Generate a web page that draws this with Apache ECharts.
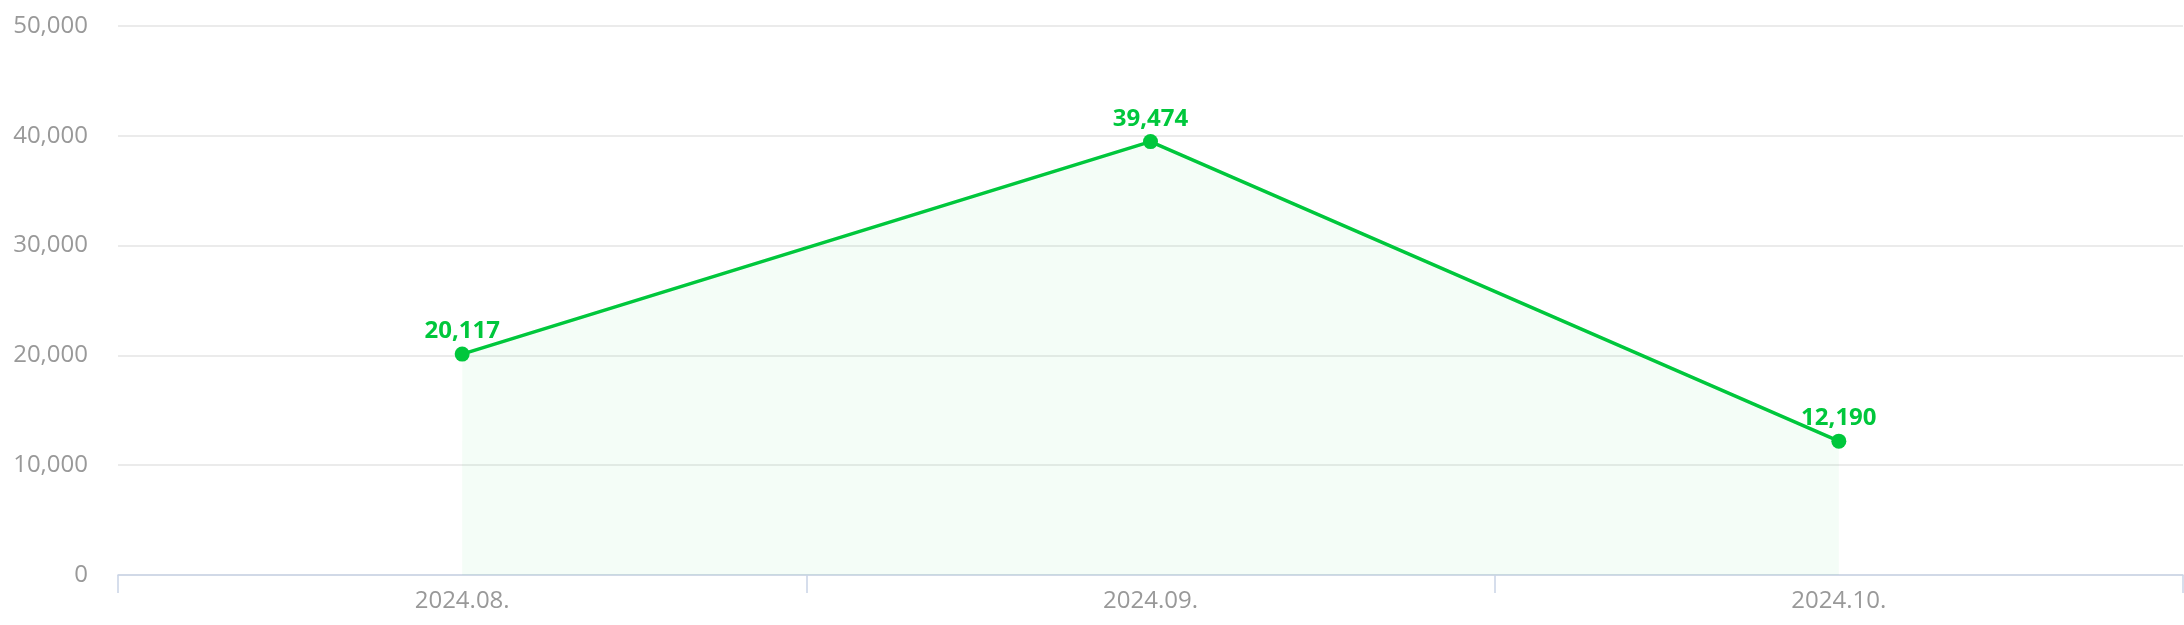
<!DOCTYPE html>
<html>
<head>
<meta charset="utf-8">
<script src="https://cdn.jsdelivr.net/npm/echarts@6/dist/echarts.min.js"></script>
<style>
html,body{margin:0;padding:0;background:#fff;}
#chart{width:2184px;height:625px;}
</style>
</head>
<body>
<div id="chart"></div>
<script>
const categories = ['2024.08.', '2024.09.', '2024.10.'];
const values = [20117, 39474, 12190];
const yTicks = [0, 10000, 20000, 30000, 40000, 50000];

const chart = echarts.init(document.getElementById('chart'), null, {renderer: 'canvas'});
const fmt = v => v.toLocaleString('en-US');
chart.setOption({
  animation: false,
  grid: {left: 118, right: 1, top: 26, bottom: 50, containLabel: false},
  xAxis: {
    type: 'category',
    data: categories,
    boundaryGap: true,
    axisLine: {lineStyle: {color: '#c9d3e6', width: 1.5}},
    axisTick: {show: true, length: 18, lineStyle: {color: '#c9d3e6', width: 1.5}},
    axisLabel: {color: '#999999', fontSize: 24, fontFamily: 'Open Sans', margin: 14}
  },
  yAxis: {
    type: 'value',
    min: yTicks[0],
    max: yTicks[yTicks.length - 1],
    interval: yTicks[1] - yTicks[0],
    axisLine: {show: false},
    axisTick: {show: false},
    splitLine: {lineStyle: {color: '#e4e4e4', width: 1.5}},
    axisLabel: {color: '#999999', fontSize: 24, fontFamily: 'Open Sans', margin: 30, formatter: fmt}
  },
  series: [{
    type: 'line',
    data: values,
    symbol: 'circle',
    symbolSize: 15,
    lineStyle: {color: '#00c73c', width: 3.5},
    itemStyle: {color: '#00c73c'},
    areaStyle: {color: 'rgba(0,199,60,0.06)'},
    label: {
      show: true, position: 'top', distance: 3,
      color: '#00c73c', fontSize: 24, fontWeight: 'bold', fontFamily: 'Open Sans',
      formatter: p => fmt(p.value)
    }
  }]
});
</script>
</body>
</html>
